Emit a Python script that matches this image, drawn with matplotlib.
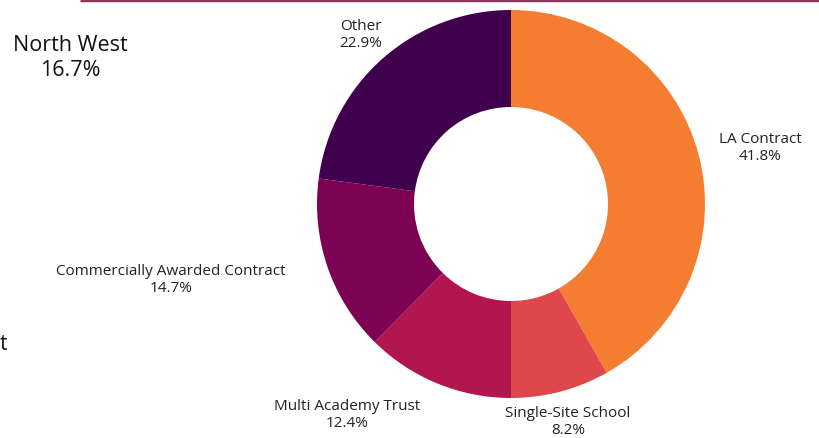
import matplotlib.pyplot as plt

categories = ["LA Contract", "Single-Site School", "Multi Academy Trust",
              "Commercially Awarded Contract", "Other"]
shares = [41.8, 8.2, 12.4, 14.7, 22.9]
colors = ["#F47D31", "#E0474C", "#B2164F", "#7D0254", "#40004E"]

region = "North West"
region_share = 16.7

plt.rcParams['font.family'] = ['Open Sans', 'DejaVu Sans']

W, H = 819, 439
fig = plt.figure(figsize=(W / 100, H / 100), dpi=100)
ax = fig.add_axes([0, 0, 1, 1])

# pixel-like data coords (y measured up from bottom)
cx, cy, r = 511, H - 205, 194
ax.pie(shares, colors=colors, startangle=90, counterclock=False,
       center=(cx, cy), radius=r, frame=True,
       wedgeprops=dict(width=r * 0.5, linewidth=0))
ax.set_xlim(0, W)
ax.set_ylim(0, H)
ax.set_aspect('equal')
ax.axis('off')

# label anchor points (centre of two-line label), in pixels from top-left
label_pos = [(760, 148), (568, 422), (347, 415), (171, 280), (361, 35)]
for name, val, (lx, ly) in zip(categories, shares, label_pos):
    ax.text(lx, H - ly, f"{name}\n{val}%", ha='center', va='center',
            fontsize=11, color='#222222', linespacing=1.25)

# region title on the left
ax.text(70, H - 58, f"{region}\n{region_share}%", ha='center', va='center',
        fontsize=15.5, color='#111111', linespacing=1.25)

# leftover text from a neighbouring panel
ax.text(0, H - 345, "t", ha='left', va='center', fontsize=15, color='#111111')

# maroon rule along the top
ax.plot([80, W], [H - 1, H - 1], color='#8B3A5E', linewidth=2.5,
        solid_capstyle='butt', clip_on=False)

fig.savefig("out.png", dpi=100)
